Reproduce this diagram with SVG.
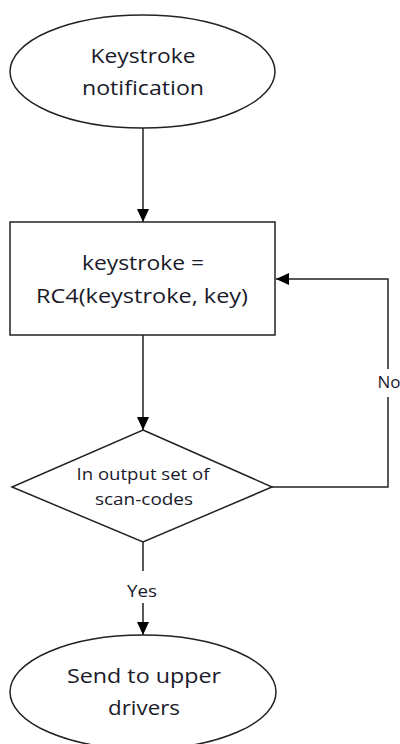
<svg xmlns="http://www.w3.org/2000/svg" width="400" height="744" viewBox="0 0 400 744">
<style>
.shape{fill:#fff;stroke:#222;stroke-width:1.5}
.line{fill:none;stroke:#222;stroke-width:1.5}
.t{font-family:"Open Sans","Liberation Sans",sans-serif;fill:#1a1a2a;text-anchor:middle}
.big{font-size:20px}
.small{font-size:16px}
</style>
<defs>
<marker id="arr" viewBox="0 0 13 12" refX="13" refY="6" markerWidth="13" markerHeight="12" markerUnits="userSpaceOnUse" orient="auto">
<path d="M0,0 L13,6 L0,12 Z" fill="#000"/>
</marker>
</defs>
<rect width="400" height="744" fill="#fff"/>
<g id="connectors">
<line class="line" x1="143" y1="128" x2="143" y2="222" marker-end="url(#arr)"/>
<line class="line" x1="143" y1="335" x2="143" y2="430" marker-end="url(#arr)"/>
<polyline class="line" points="272,487 388,487 388,279 276,279" marker-end="url(#arr)"/>
<line class="line" x1="143" y1="542" x2="143" y2="635" marker-end="url(#arr)"/>
<rect x="376" y="369" width="24" height="28" fill="#fff"/>
<text class="t small" x="389" y="388" textLength="23" lengthAdjust="spacingAndGlyphs">No</text>
<rect x="126" y="571" width="34" height="32" fill="#fff"/>
<text class="t small" x="142" y="597" textLength="30" lengthAdjust="spacingAndGlyphs">Yes</text>
</g>
<g id="start">
<ellipse class="shape" cx="142.5" cy="71.5" rx="132.5" ry="56.5"/>
<text class="t big" x="143" y="63" textLength="105" lengthAdjust="spacingAndGlyphs">Keystroke</text>
<text class="t big" x="143" y="95" textLength="122" lengthAdjust="spacingAndGlyphs">notification</text>
</g>
<g id="encrypt">
<rect class="shape" x="10" y="222" width="265" height="113"/>
<text class="t big" x="143" y="270" textLength="122" lengthAdjust="spacingAndGlyphs">keystroke =</text>
<text class="t big" x="142" y="303" textLength="212" lengthAdjust="spacingAndGlyphs">RC4(keystroke, key)</text>
</g>
<g id="decision">
<polygon class="shape" points="143,430 272,487 143,542 12,487"/>
<text class="t small" x="143" y="480" textLength="133" lengthAdjust="spacingAndGlyphs">In output set of</text>
<text class="t small" x="144" y="505" textLength="98" lengthAdjust="spacingAndGlyphs">scan-codes</text>
</g>
<g id="send">
<ellipse class="shape" cx="143" cy="692" rx="133" ry="57"/>
<text class="t big" x="144" y="683" textLength="154" lengthAdjust="spacingAndGlyphs">Send to upper</text>
<text class="t big" x="144" y="715" textLength="72" lengthAdjust="spacingAndGlyphs">drivers</text>
</g>
</svg>
